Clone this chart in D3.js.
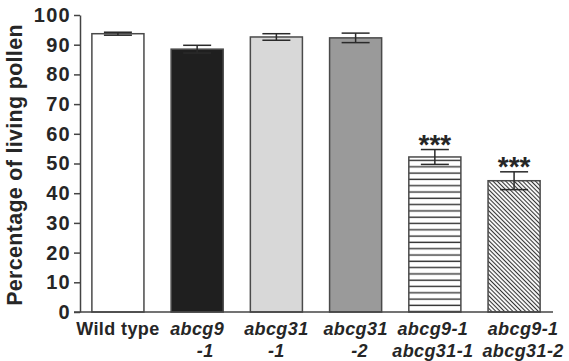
<html>
<head>
    <style>
        body { margin: 0; background: #fff; }
        text { font-family: "Liberation Sans", Arial, sans-serif; font-weight: bold; fill: #262626; }
    </style>
    <script src="https://d3js.org/d3.v7.min.js"></script>
</head>
<body>
    <svg width="569" height="361"></svg>

    <script>
        // data
        var line1 = ["Wild type", "abcg9", "abcg31", "abcg31", "abcg9-1", "abcg9-1"];
        var line2 = ["", "-1", "-1", "-2", "abcg31-1", "abcg31-2"];
        var values = [93.7, 88.5, 92.6, 92.3, 52.2, 44.2];
        var errors = [0.5, 1.3, 1.1, 1.6, 2.5, 3.0];
        var stars = ["", "", "", "", "***", "***"];
        var yTicks = [0, 10, 20, 30, 40, 50, 60, 70, 80, 90, 100];

        // styles kept apart
        var barFill = ["#ffffff", "#1f1f1f", "#d8d8d8", "#9a9a9a", "url(#hlines)", "url(#diag)"];
        var labelShift = [0, 0, 0, 0, -2, 9];   // labels a bit off centre in the original
        var line2Shift = [0, 8, 0, 4, 0, 0];

        var svg = d3.select("svg");

        var defs = svg.append("defs");
        var p1 = defs.append("pattern")          // horizontal lines
            .attr("id", "hlines")
            .attr("patternUnits", "userSpaceOnUse")
            .attr("width", 10).attr("height", 6.3);
        p1.append("rect").attr("width", 10).attr("height", 6.3).attr("fill", "#fff");
        p1.append("line").attr("x1", 0).attr("x2", 10).attr("y1", 3).attr("y2", 3)
            .attr("stroke", "#333").attr("stroke-width", 1.4);

        var p2 = defs.append("pattern")          // diagonal lines
            .attr("id", "diag")
            .attr("patternUnits", "userSpaceOnUse")
            .attr("width", 10).attr("height", 3)
            .attr("patternTransform", "rotate(45)");
        p2.append("rect").attr("width", 10).attr("height", 3).attr("fill", "#fff");
        p2.append("line").attr("x1", 0).attr("x2", 10).attr("y1", 1.5).attr("y2", 1.5)
            .attr("stroke", "#333").attr("stroke-width", 1.1);

        var x = d3.scaleBand()
            .domain(d3.range(values.length))
            .range([80, 552])
            .paddingInner(0.343)
            .paddingOuter(0.15);

        var y = d3.scaleLinear().domain([0, 100]).range([312, 15]);

        // y axis
        var yAxis = svg.append("g")
            .attr("transform", "translate(80,0)")
            .call(d3.axisLeft(y).tickValues(yTicks).tickSize(6).tickSizeOuter(0).tickPadding(3));
        yAxis.select(".domain").attr("stroke", "#444").attr("stroke-width", 1.5);
        yAxis.selectAll(".tick line").attr("stroke", "#444").attr("stroke-width", 1.5);
        yAxis.selectAll(".tick text")
            .attr("font-size", 20)
            .attr("letter-spacing", 1.3)
            .attr("font-family", null)
            .attr("fill", "#262626");

        svg.append("text")
            .attr("transform", "translate(22,165) rotate(-90)")
            .attr("text-anchor", "middle")
            .attr("font-size", 21.5)
            .attr("letter-spacing", 0.3)
            .text("Percentage of living pollen");

        // bars
        svg.selectAll(".bar")
            .data(values)
            .enter().append("rect")
            .attr("class", "bar")
            .attr("x", function(d, i){ return x(i); })
            .attr("y", function(d){ return y(d); })
            .attr("width", x.bandwidth())
            .attr("height", function(d){ return y(0) - y(d); })
            .attr("fill", function(d, i){ return barFill[i]; })
            .attr("stroke", "#4a4a4a")
            .attr("stroke-width", 1.5);

        // error bars
        var eb = svg.selectAll(".err")
            .data(values)
            .enter().append("g")
            .attr("class", "err")
            .attr("stroke", "#2a2a2a")
            .attr("stroke-width", 1.5);
        eb.append("line")
            .attr("x1", function(d, i){ return x(i) + x.bandwidth() / 2; })
            .attr("x2", function(d, i){ return x(i) + x.bandwidth() / 2; })
            .attr("y1", function(d, i){ return y(d - errors[i]); })
            .attr("y2", function(d, i){ return y(d + errors[i]); });
        eb.append("line")
            .attr("x1", function(d, i){ return x(i) + x.bandwidth() / 2 - 14; })
            .attr("x2", function(d, i){ return x(i) + x.bandwidth() / 2 + 14; })
            .attr("y1", function(d, i){ return y(d + errors[i]); })
            .attr("y2", function(d, i){ return y(d + errors[i]); });
        eb.append("line")
            .attr("x1", function(d, i){ return x(i) + x.bandwidth() / 2 - 14; })
            .attr("x2", function(d, i){ return x(i) + x.bandwidth() / 2 + 14; })
            .attr("y1", function(d, i){ return y(d - errors[i]); })
            .attr("y2", function(d, i){ return y(d - errors[i]); });

        // significance stars
        svg.selectAll(".star")
            .data(values)
            .enter().append("text")
            .attr("class", "star")
            .attr("x", function(d, i){ return x(i) + x.bandwidth() / 2; })
            .attr("y", function(d, i){ return y(d + errors[i]) + 4; })
            .attr("text-anchor", "middle")
            .attr("font-size", 28)
            .text(function(d, i){ return stars[i]; });

        // x axis
        svg.append("line")
            .attr("x1", 74).attr("x2", x.range()[1] + 1)
            .attr("y1", y(0)).attr("y2", y(0))
            .attr("stroke", "#444").attr("stroke-width", 1.5);

        var labels = svg.selectAll(".xlab")
            .data(line1)
            .enter().append("text")
            .attr("class", "xlab")
            .attr("text-anchor", "middle")
            .attr("font-size", 18)
            .attr("letter-spacing", 0.4)
            .attr("font-style", function(d, i){ return i == 0 ? "normal" : "italic"; });
        labels.append("tspan")
            .attr("x", function(d, i){ return x(i) + x.bandwidth() / 2 + labelShift[i]; })
            .attr("y", 335)
            .text(function(d){ return d; });
        labels.append("tspan")
            .attr("x", function(d, i){ return x(i) + x.bandwidth() / 2 + labelShift[i] + line2Shift[i]; })
            .attr("y", 357)
            .text(function(d, i){ return line2[i]; });
    </script>
</body>
</html>
